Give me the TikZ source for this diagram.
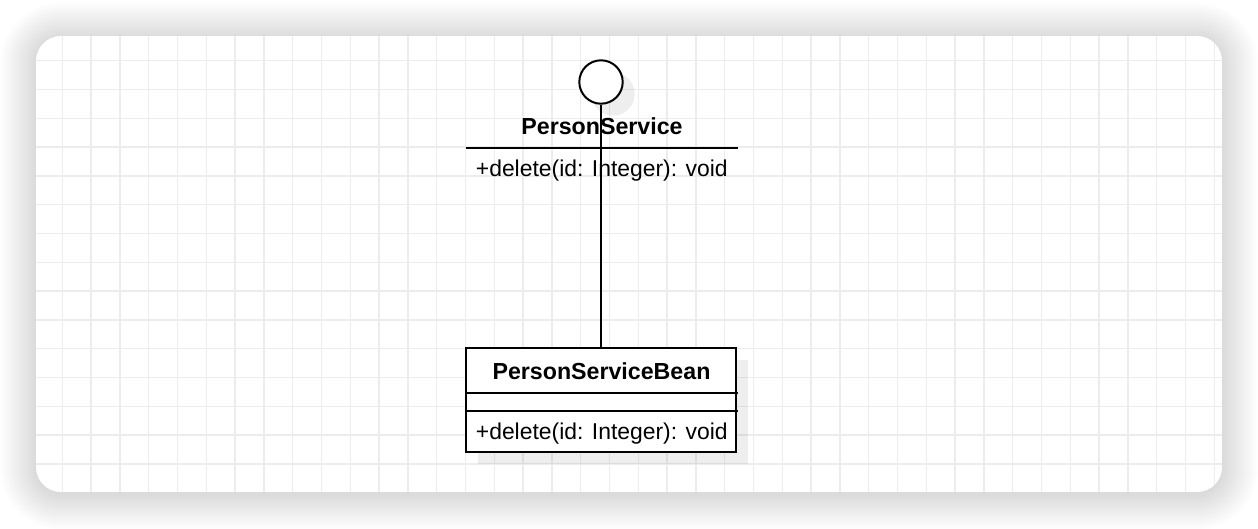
\documentclass[tikz,border=0pt]{standalone}
\usepackage{fontspec}
\setmainfont{Liberation Sans}
\definecolor{gridc}{HTML}{ECECEC}
\begin{document}
\begin{tikzpicture}[x=1pt,y=-1pt,
  uml/.style={line width=2pt, draw=black},
  gridline/.style={draw=gridc, line width=1.3pt},
  umltitle/.style={inner sep=0pt, font=\fontsize{23.2}{27}\selectfont\bfseries},
  umlmember/.style={inner sep=0pt, font=\fontsize{22.9}{27}\selectfont},
  dropshadow/.style={fill=black, fill opacity=0.065, draw=none}]
\useasboundingbox (0,0) rectangle (1258,528);
\fill[white] (0,0) rectangle (1258,528);
% card shadow
\foreach \k [evaluate=\k as \r using 25+\k] in {1,...,36}
  \fill[black, fill opacity=0.0045, rounded corners=\r pt] (36-\k,36-\k+2) rectangle (1222+\k,492+\k+2);
% card with grid
\begin{scope}
  \clip[rounded corners=25pt] (36,36) rectangle (1222,492);
  \fill[white] (36,36) rectangle (1222,492);
  \foreach \i in {0,...,40} \draw[gridline] ({62.3+28.8*\i},36) -- ({62.3+28.8*\i},492);
  \foreach \j in {0,...,14} \draw[gridline] (36,{60.7+28.8*\j}) -- (1222,{60.7+28.8*\j});
\end{scope}
% shadows of shapes
\fill[dropshadow] (613,94) circle (21.7);
\fill[dropshadow] (477.7,360.3) rectangle (748.3,464);
% interface
\node[circle, uml, fill=white, minimum size=43.4pt, inner sep=0pt] (iface) at (601,82) {};
\node[umltitle, anchor=base] (ifname) at (602,134) {PersonService};
\coordinate (ifsepL) at (465.7,148.3);
\coordinate (ifsepR) at (738.3,148.3);
\draw[uml] (ifsepL) -- (ifsepR);
\node[umlmember, anchor=base west] (ifop) at (475.7,176) {+delete(id: Integer): void};
% class
\node[rectangle, uml, fill=white, minimum width=270.6pt, minimum height=103.7pt, inner sep=0pt] (bean) at (601,400.15) {};
\node[umltitle, anchor=base] (beanname) at (601.5,379) {PersonServiceBean};
\coordinate (div1L) at (465.7,392.7);
\coordinate (div1R) at (738.3,392.7);
\coordinate (div2L) at (465.7,410.7);
\coordinate (div2R) at (738.3,410.7);
\draw[uml] (div1L) -- (div1R);
\draw[uml] (div2L) -- (div2R);
\node[umlmember, anchor=base west] (beanop) at (475.7,439) {+delete(id: Integer): void};
% realization connector
\draw[uml] (iface.south) -- (bean.north);
\end{tikzpicture}
\end{document}
